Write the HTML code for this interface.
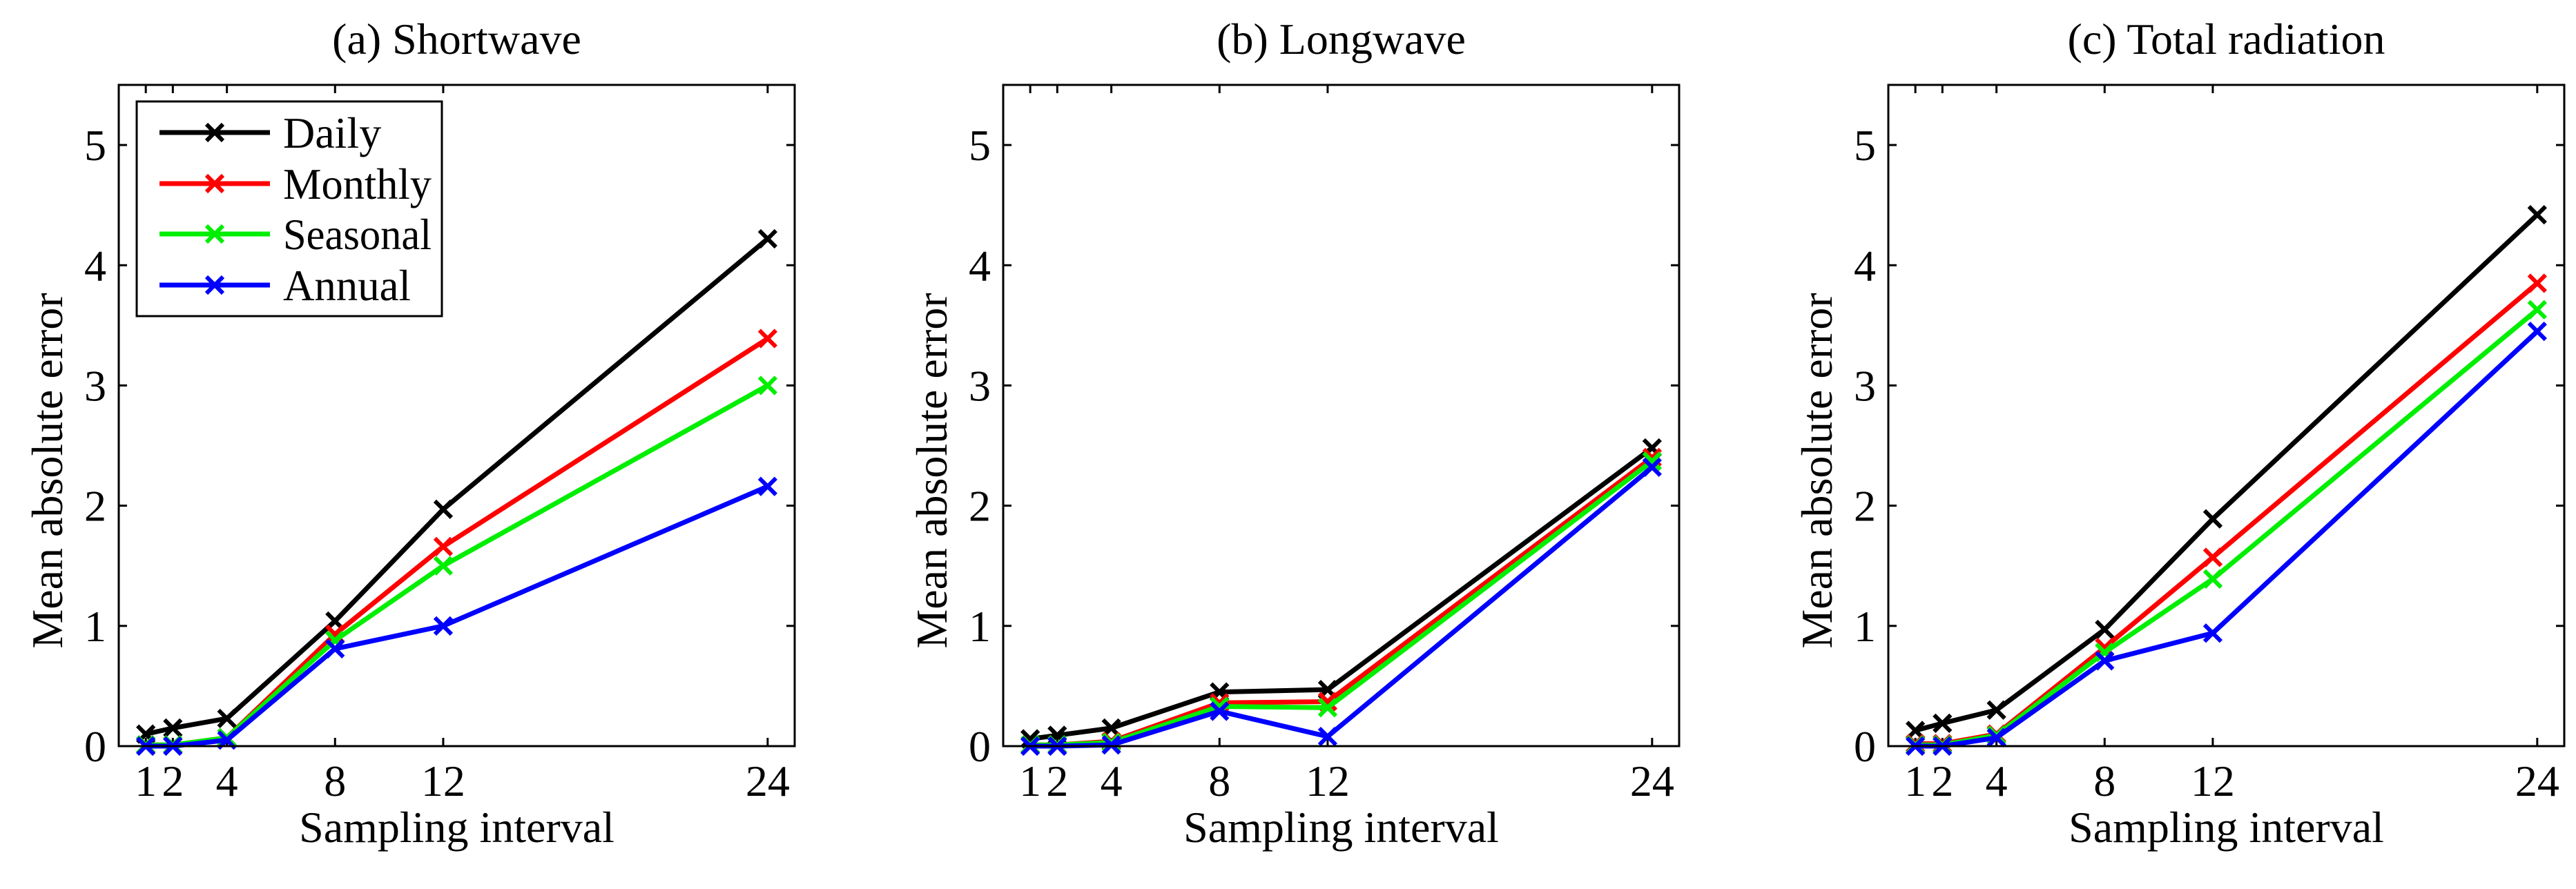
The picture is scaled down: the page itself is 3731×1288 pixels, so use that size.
<!DOCTYPE html>
<html><head><meta charset="utf-8"><style>
html,body{margin:0;padding:0;background:#fff}
svg{display:block}
text{font-family:"Liberation Serif","Times New Roman",Times,"Tinos","DejaVu Serif",serif;fill:#000}
</style></head><body>
<svg id="fig" width="3731" height="1288" viewBox="0 0 3731 1288" xmlns="http://www.w3.org/2000/svg"></svg>
<script>
const xCats = [1, 2, 4, 8, 12, 24];
const xTickLabels = ["1", "2", "4", "8", "12", "24"];
const yTicks = [0, 1, 2, 3, 4, 5];
const seriesNames = ["Daily", "Monthly", "Seasonal", "Annual"];
const seriesColors = ["#000000", "#ff0000", "#00ee00", "#0000ff"];
const panelTitles = ["(a) Shortwave", "(b) Longwave", "(c) Total radiation"];
const swDaily = [0.10, 0.15, 0.23, 1.04, 1.97, 4.22];
const swMonthly = [0.01, 0.01, 0.07, 0.93, 1.66, 3.39];
const swSeasonal = [0.01, 0.01, 0.07, 0.88, 1.50, 3.00];
const swAnnual = [0.00, 0.00, 0.05, 0.81, 1.00, 2.16];
const lwDaily = [0.06, 0.09, 0.15, 0.45, 0.47, 2.48];
const lwMonthly = [0.01, 0.01, 0.04, 0.36, 0.37, 2.40];
const lwSeasonal = [0.01, 0.01, 0.03, 0.33, 0.32, 2.37];
const lwAnnual = [0.00, 0.00, 0.01, 0.29, 0.08, 2.32];
const totDaily = [0.13, 0.19, 0.30, 0.97, 1.89, 4.42];
const totMonthly = [0.02, 0.02, 0.10, 0.82, 1.57, 3.85];
const totSeasonal = [0.01, 0.01, 0.09, 0.78, 1.39, 3.63];
const totAnnual = [0.00, 0.00, 0.07, 0.71, 0.94, 3.45];
const panelData = [[swDaily, swMonthly, swSeasonal, swAnnual],[lwDaily, lwMonthly, lwSeasonal, lwAnnual],[totDaily, totMonthly, totSeasonal, totAnnual]];

const NS = "http://www.w3.org/2000/svg";
const svg = document.getElementById('fig');
const FONT = '"Liberation Serif", "Times New Roman", Times, "DejaVu Serif", serif';
function mk(tag, attrs, parent){const e=document.createElementNS(NS,tag);for(const k in attrs)e.setAttribute(k,attrs[k]);if(tag==='text')e.style.fontFamily=FONT;(parent||svg).appendChild(e);return e;}
const lefts=[172,1453,2735], W=979, top0=123, bot=1081, XMIN=0, XMAX=25, YMIN=0, YMAX=5.5;
const FS=64, LW=7;
function marker(g,x,y,c){const s=12;
  mk('path',{d:`M${x-s},${y-s}L${x+s},${y+s}M${x-s},${y+s}L${x+s},${y-s}`,stroke:c,'stroke-width':6,fill:'none'},g);}
const keys=['a','b','c'];
lefts.forEach((L,p)=>{
  const R=L+W;
  const xs=v=>L+(v-XMIN)/(XMAX-XMIN)*W;
  const ys=v=>bot-(v-YMIN)/(YMAX-YMIN)*(bot-top0);
  const g=mk('g',{});
  
  
  const t=mk('text',{x:(L+R)/2,y:78,'font-size':FS,'text-anchor':'middle'},g);t.textContent=panelTitles[p];
  
  
  yTicks.forEach(v=>{const y=ys(v);
    mk('line',{x1:L,y1:y,x2:L+12,y2:y,stroke:'#000','stroke-width':3},g);
    mk('line',{x1:R,y1:y,x2:R-12,y2:y,stroke:'#000','stroke-width':3},g);
    const tl=mk('text',{x:L-18,y:y+22,'font-size':FS,'text-anchor':'end'},g);tl.textContent=String(v);
    
    
  });
  xCats.forEach((v,i)=>{const x=xs(v);
    mk('line',{x1:x,y1:bot,x2:x,y2:bot-12,stroke:'#000','stroke-width':3},g);
    mk('line',{x1:x,y1:top0,x2:x,y2:top0+12,stroke:'#000','stroke-width':3},g);
    const tl=mk('text',{x:x,y:1153,'font-size':FS,'text-anchor':'middle'},g);tl.textContent=xTickLabels[i];
    
    
  });
  const xl=mk('text',{x:(L+R)/2,y:1220,'font-size':FS,'text-anchor':'middle'},g);xl.textContent='Sampling interval';
  
  
  const yl=mk('text',{x:0,y:0,'font-size':FS,'text-anchor':'middle',transform:`translate(${L-82},${(top0+bot)/2+80}) rotate(-90)`},g);yl.textContent='Mean absolute error';
  
  
  panelData[p].forEach((arr,si)=>{
    const c=seriesColors[si];
    const sg=mk('g',{},g);
    
    
    const pts=arr.map((v,i)=>xs(xCats[i])+','+ys(v)).join(' ');
    mk('polyline',{points:pts,fill:'none',stroke:c,'stroke-width':LW,'stroke-linejoin':'round'},sg);
    arr.forEach((v,i)=>marker(sg,xs(xCats[i]),ys(v),c));
  });
  mk('rect',{x:L,y:top0,width:W,height:bot-top0,fill:'none',stroke:'#000','stroke-width':3},g);
  if(p===0){
    const lg=mk('g',{},g);
    
    
    mk('rect',{x:198,y:147,width:442,height:311,fill:'#fff',stroke:'#000','stroke-width':3},lg);
    const ey=[192,266,339,413];
    seriesNames.forEach((n,i)=>{
      const eg=mk('g',{},lg);
      
      
      mk('line',{x1:231,y1:ey[i],x2:391,y2:ey[i],stroke:seriesColors[i],'stroke-width':LW},eg);
      marker(eg,311,ey[i],seriesColors[i]);
      const tx=mk('text',{x:410,y:ey[i]+22,'font-size':FS,textLength:215,lengthAdjust:'spacingAndGlyphs'},eg);tx.textContent=n;
      if(n==='Daily'){tx.removeAttribute('textLength');tx.removeAttribute('lengthAdjust');}
      if(n==='Annual'){tx.setAttribute('textLength',185);}
    });
  }
});
</script>
</body></html>
